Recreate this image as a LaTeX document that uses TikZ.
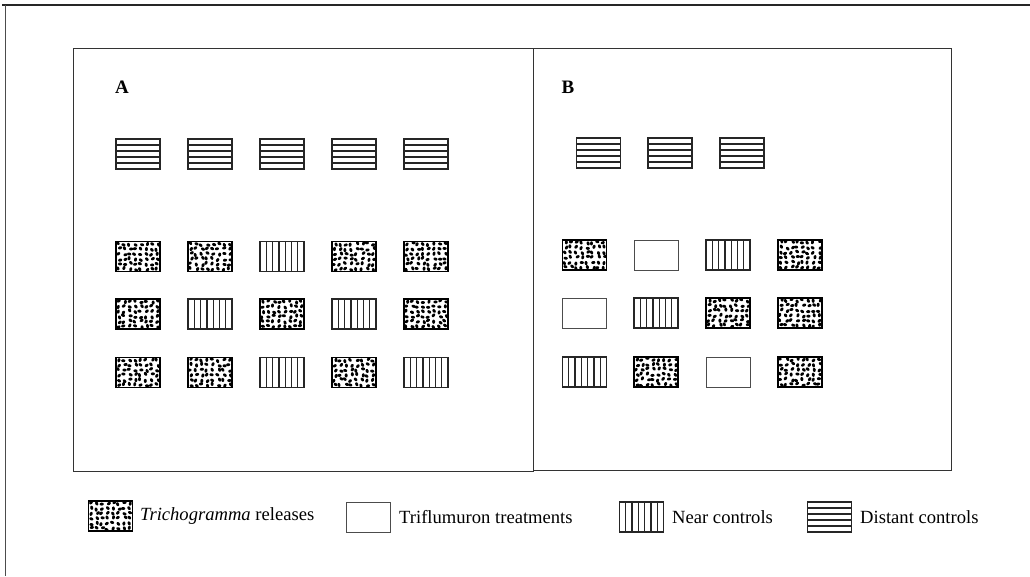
\documentclass[tikz,border=0pt]{standalone}
\usepackage{fontspec}
\setmainfont{Liberation Serif}
\tikzset{
  plotbox/.style={line width=1.2pt, draw=black!85, minimum width=44pt, minimum height=30pt, inner sep=0pt, outer sep=0pt},
  distc/.style={plotbox, path picture={
     \foreach \k in {1,...,4}{\draw[line width=1.4pt,black!85] ([yshift=\k*6pt]path picture bounding box.south west) -- ([yshift=\k*6pt]path picture bounding box.south east);}}},
  nearc/.style={plotbox, path picture={
     \foreach \k in {1,...,6}{\draw[line width=1.3pt,black!85] ([xshift=\k*6.29pt]path picture bounding box.south west) -- ([xshift=\k*6.29pt]path picture bounding box.north west);}}},
  triflu/.style={plotbox, line width=0.9pt, draw=black!70},
  trich/.style={plotbox, line width=1.5pt, draw=black, path picture={
     \foreach \i in {0,...,7}{\foreach \j in {0,...,5}{
        \pgfmathsetmacro\px{2.8+\i*5.5+1.4*rand}
        \pgfmathsetmacro\py{2.5+\j*5+1.2*rand}
        \pgfmathsetmacro\pa{180*rnd}
        \fill[black] ([xshift=\px pt,yshift=\py pt]path picture bounding box.south west) circle [x radius=2.1pt, y radius=1.5pt, rotate=\pa];
     }}}},
  frameline/.style={line width=1pt, draw=black!80},
  panellabel/.style={font=\bfseries\fontsize{19}{22}\selectfont, inner sep=0pt},
  legtext/.style={font=\fontsize{18.6}{22}\selectfont, anchor=west, inner sep=0pt},
}
\begin{document}
\begin{tikzpicture}[x=1pt,y=-1pt]
\pgfmathsetseed{12}
\useasboundingbox (0,0) rectangle (1030,576);
% outer frame
\draw[line width=1.2pt, black!85] (2,5) -- (1030,5);
\draw[line width=1pt, black!70] (5.5,5) -- (5.5,576);
% panels
\draw[frameline] (73.5,48.5) rectangle (533.5,471);
\draw[frameline] (533.5,48.5) rectangle (951.5,470.5);
\node[panellabel] (labA) at (122,87) {A};
\node[panellabel] (labB) at (568,87) {B};
% Panel A distant controls
\foreach \c [count=\n] in {138,210,282,354,426}{
  \node[distc] (Ad\n) at (\c,154) {};
}
% Panel A grid
\node[trich] (A11) at (138,256.5) {};
\node[trich] (A12) at (210,256.5) {};
\node[nearc] (A13) at (282,256.5) {};
\node[trich] (A14) at (354,256.5) {};
\node[trich] (A15) at (426,256.5) {};
\node[trich] (A21) at (138,314) {};
\node[nearc] (A22) at (210,314) {};
\node[trich] (A23) at (282,314) {};
\node[nearc] (A24) at (354,314) {};
\node[trich] (A25) at (426,314) {};
\node[trich] (A31) at (138,372.5) {};
\node[trich] (A32) at (210,372.5) {};
\node[nearc] (A33) at (282,372.5) {};
\node[trich] (A34) at (354,372.5) {};
\node[nearc] (A35) at (426,372.5) {};
% Panel B distant controls
\foreach \c [count=\n] in {598.5,670,742}{
  \node[distc] (Bd\n) at (\c,153) {};
}
% Panel B grid
\node[trich]  (B11) at (584.5,255) {};
\node[triflu] (B12) at (656,255) {};
\node[nearc]  (B13) at (728,255) {};
\node[trich]  (B14) at (800,255) {};
\node[triflu] (B21) at (584.5,313) {};
\node[nearc]  (B22) at (656,313) {};
\node[trich]  (B23) at (728,313) {};
\node[trich]  (B24) at (800,313) {};
\node[nearc]  (B31) at (584.5,372) {};
\node[trich]  (B32) at (656,372) {};
\node[triflu] (B33) at (728,372) {};
\node[trich]  (B34) at (800,372) {};
% Legend
\node[trich]  (L1) at (110.5,516) {};
\node[legtext] (L1t) at (140,516) {\textit{Trichogramma} releases};
\node[triflu] (L2) at (368.5,517) {};
\node[legtext] (L2t) at (399,517) {Triflumuron treatments};
\node[nearc]  (L3) at (641.5,517) {};
\node[legtext] (L3t) at (672,517) {Near controls};
\node[distc]  (L4) at (829.5,517) {};
\node[legtext] (L4t) at (860,517) {Distant controls};
\end{tikzpicture}
\end{document}
